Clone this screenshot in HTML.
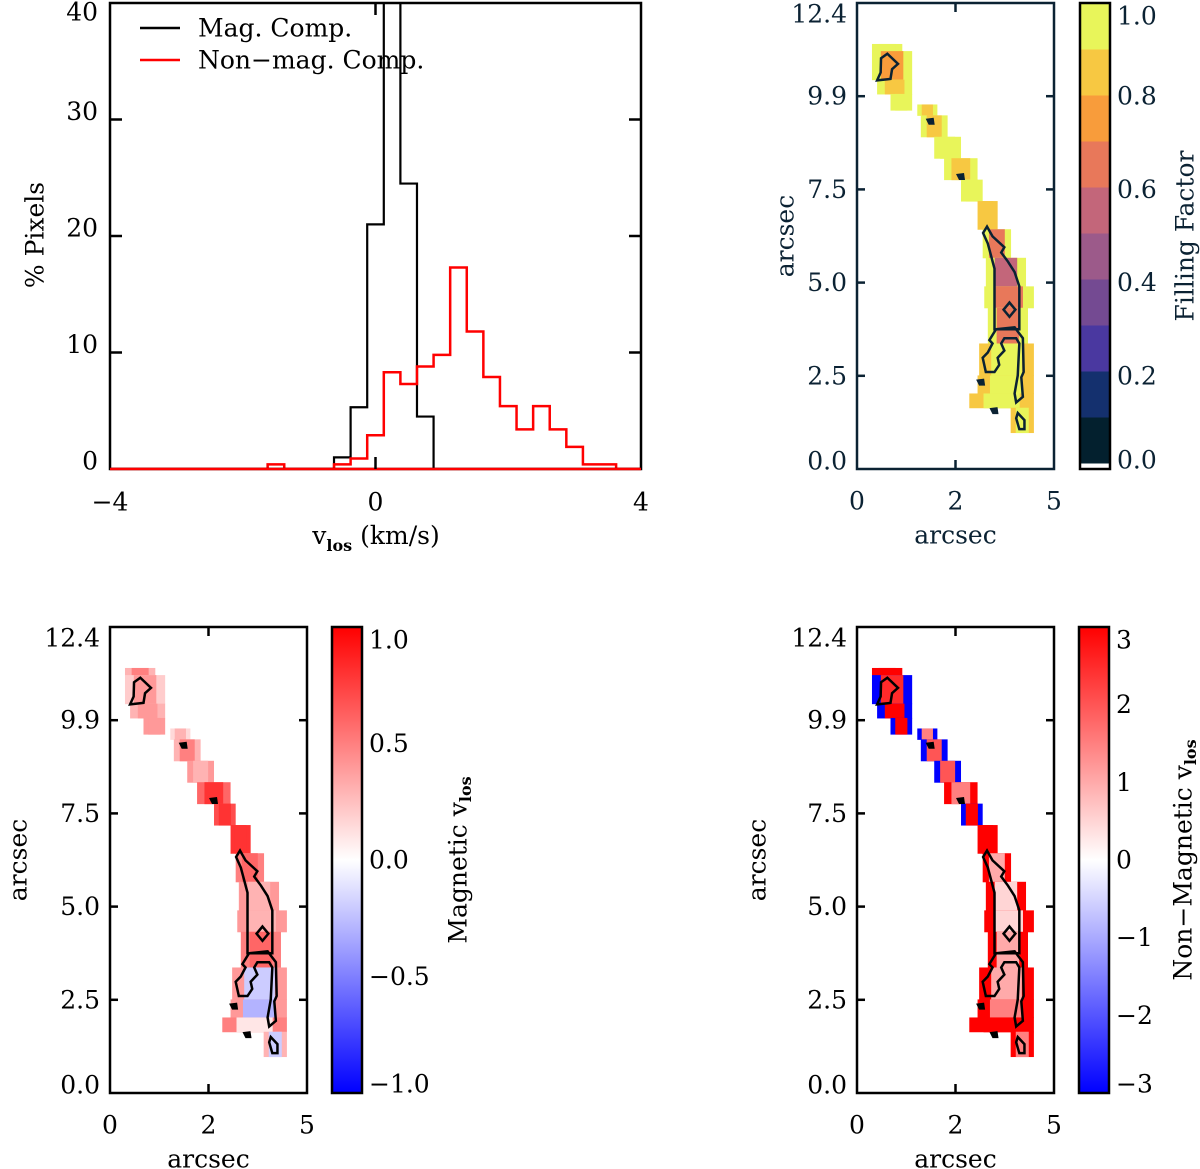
<!DOCTYPE html>
<html><head><meta charset="utf-8"><style>
html,body{margin:0;padding:0;background:#fff;}
svg{display:block;font-family:"DejaVu Serif","Liberation Serif",serif;}
</style></head><body>
<svg id="fig" width="1200" height="1169" viewBox="0 0 1200 1169" xmlns="http://www.w3.org/2000/svg"></svg>
<script>
// ---------- Histogram data ----------
const binCenters = [-1.5,-1.25,-1.0,-0.75,-0.5,-0.25,0.0,0.25,0.5,0.75,1.0,1.25,1.5,1.75,2.0,2.25,2.5,2.75,3.0,3.25,3.5];
const magValues  = [0,0,0,0,1.0,5.3,21,45,24.5,4.5,0,0,0,0,0,0,0,0,0,0,0];
const nonMagValues = [0.4,0,0,0,0.4,0.9,2.9,8.3,7.3,8.8,9.8,17.3,11.8,7.9,5.4,3.4,5.4,3.4,1.9,0.4,0.4];
const histYTicks = [0,10,20,30,40];
const histXTicks = [-4,0,4];
const histXTickLabels = ["\u22124","0","4"];

// ---------- Map data (arcsec) ----------
const rowsY0 = [11.31,11.12,10.36,9.98,9.70,9.41,8.84,8.27,7.70,7.13,6.38,5.62,4.86,4.29,3.34,2.49,2.01,1.63];
const rowsY1 = [11.12,10.36,9.98,9.55,9.41,8.84,8.27,7.70,7.13,6.38,5.62,4.86,4.29,3.34,2.49,2.01,1.63,0.97];
const rowsXL = [0.38,0.38,0.51,0.85,1.53,1.62,1.96,2.21,2.64,3.06,3.19,3.27,3.23,3.32,3.10,3.06,2.85,3.90];
const rowsXR = [1.15,1.40,1.40,1.40,2.04,2.30,2.64,3.06,3.19,3.57,3.91,4.29,4.49,4.34,4.49,4.49,4.49,4.49];
const ffEdge = [1.0,0.95,1.0,1.0,1.0,0.95,1.0,1.0,1.0,0.9,0.95,0.95,0.95,0.95,0.85,0.85,0.85,0.85];
const ffCore = [0.95,0.75,0.9,0.95,0.85,0.85,0.95,0.85,0.95,0.85,0.65,0.55,0.65,0.7,0.95,0.95,0.95,0.95];
const magEdge = [0.3,0.2,0.3,0.4,0.15,0.3,0.4,0.6,0.7,0.8,0.5,0.4,0.4,0.5,0.4,0.4,0.5,0.3];
const magCore = [0.5,0.4,0.4,0.4,0.3,0.5,0.3,0.8,0.8,0.8,0.6,0.3,0.3,0.6,-0.2,-0.3,0.1,-0.2];
const nmEdge = [3,-3,-3,-3,-3,-3,-3,3,-3,3,3,3,3,3,3,3,3,3];
const nmCore = [3,2.5,3,3,1.5,2,2,1.5,3,3,1,0.5,0.5,1,1,1.5,3,1.5];

const contourA = [[0.77,11.05],[1.04,10.78],[0.89,10.64],[0.85,10.38],[0.51,10.34],[0.60,10.55],[0.61,10.93]];
const contourB = [[3.30,6.45],[3.44,6.19],[3.74,5.90],[3.66,5.76],[3.83,5.52],[4.00,5.24],[4.12,4.86],[4.12,3.72],[3.49,3.72],[3.49,5.33],[3.32,6.00],[3.20,6.28]];
const contourC = [[3.87,4.43],[4.02,4.24],[3.87,4.05],[3.72,4.24]];
const contourD = [[3.53,3.72],[4.00,3.77],[4.21,3.48],[4.23,2.58],[4.17,2.44],[4.21,1.92],[4.04,1.77],[4.00,2.01],[4.08,2.49],[4.12,3.34],[4.04,3.48],[3.74,3.48],[3.66,3.34],[3.74,3.15],[3.57,2.96],[3.61,2.77],[3.49,2.58],[3.27,2.58],[3.19,2.96],[3.32,3.10],[3.44,3.34],[3.36,3.43]];
const contourE = [[4.08,1.49],[4.25,1.30],[4.25,1.06],[4.12,1.06],[4.04,1.35]];
const dotsX = [1.87,2.64,3.15,3.49];
const dotsY = [9.24,7.77,2.30,1.54];

const mapYTicks = [0,2.48,4.96,7.44,9.92,12.4];
const mapYTickLabels = ["0.0","2.5","5.0","7.5","9.9","12.4"];
const mapXTicks = [0,2.5,5];
const mapXTickLabels = ["0","2","5"];

const ffColors = ["#03202e","#14306e","#4a38a0","#744a92","#9c5a8a","#c3667a","#e8785a","#f89c3b","#f7c842","#e8f55a"];
const ffBarLabels = ["0.0","0.2","0.4","0.6","0.8","1.0"];
const ffBarValues = [0,0.2,0.4,0.6,0.8,1.0];
const magBarValues = [-1,-0.5,0,0.5,1];
const magBarLabels = ["\u22121.0","\u22120.5","0.0","0.5","1.0"];
const nmBarValues = [-3,-2,-1,0,1,2,3];
const nmBarLabels = ["\u22123","\u22122","\u22121","0","1","2","3"];

const NS = "http://www.w3.org/2000/svg";
const svg = document.getElementById("fig");
const FS = 25;
function el(tag, parent){ const e=document.createElementNS(NS,tag); (parent||svg).appendChild(e); return e; }
function txt(parent, s, x, y, size, anchor, color){
  const t=el("text",parent); t.textContent=s; t.setAttribute("x",x); t.setAttribute("y",y);
  t.setAttribute("font-size",size); t.setAttribute("text-anchor",anchor||"middle");
  t.setAttribute("dominant-baseline","central"); t.setAttribute("fill",color||"#000"); return t;
}

// ================= Histogram =================
(function(){
  const L=110,R=641,T=3,B=469;
  const xs=v=>L+(v+4)/8*(R-L);
  const ys=v=>B-v/40*(B-T);
  const g=el("g");  
  const clip=el("clipPath",g); clip.setAttribute("id","hclip");
  const cr=el("rect",clip); cr.setAttribute("x",L); cr.setAttribute("y",T); cr.setAttribute("width",R-L); cr.setAttribute("height",B-T);
  const bw=0.25;
  function stepPath(vals){
    let d="M"+xs(-4)+","+ys(0);
    for(let i=0;i<binCenters.length;i++){
      const x0=xs(binCenters[i]-bw/2), x1=xs(binCenters[i]+bw/2), y=ys(vals[i]);
      d+=" L"+x0+","+ys(i>0?vals[i-1]:0)+" L"+x0+","+y+" L"+x1+","+y;
    }
    d+=" L"+xs(binCenters[binCenters.length-1]+bw/2)+","+ys(0)+" L"+xs(4)+","+ys(0);
    return d;
  }
  const pm=el("path",g); pm.setAttribute("d",stepPath(magValues)); pm.setAttribute("fill","none"); pm.setAttribute("stroke","#000"); pm.setAttribute("stroke-width","2.2"); pm.setAttribute("clip-path","url(#hclip)");
  
  
  const pn=el("path",g); pn.setAttribute("d",stepPath(nonMagValues)); pn.setAttribute("fill","none"); pn.setAttribute("stroke","#ff0000"); pn.setAttribute("stroke-width","2.5"); pn.setAttribute("clip-path","url(#hclip)");
  
  
  const fr=el("rect",g); fr.setAttribute("x",L); fr.setAttribute("y",T); fr.setAttribute("width",R-L); fr.setAttribute("height",B-T); fr.setAttribute("fill","none"); fr.setAttribute("stroke","#000"); fr.setAttribute("stroke-width","2.5");
  
  
  const rb=el("line",g); rb.setAttribute("x1",L); rb.setAttribute("x2",R); rb.setAttribute("y1",B); rb.setAttribute("y2",B); rb.setAttribute("stroke","#ff0000"); rb.setAttribute("stroke-width","2.5");
  histYTicks.forEach(v=>{
    const y=ys(v);
    if(v>0&&v<40){
      [[L,L+12],[R,R-12]].forEach(p=>{const l=el("line",g); l.setAttribute("x1",p[0]); l.setAttribute("x2",p[1]); l.setAttribute("y1",y); l.setAttribute("y2",y); l.setAttribute("stroke","#000"); l.setAttribute("stroke-width","2.5");});
    }
    const t=txt(g,String(v),L-12,Math.max(12,Math.min(y-8,461)),FS,"end");
    
    
  });
  histXTicks.forEach((v,i)=>{
    const x=xs(v);
    if(v===0){
      [[B,B-12],[T,T+12]].forEach(p=>{const l=el("line",g); l.setAttribute("x1",x); l.setAttribute("x2",x); l.setAttribute("y1",p[0]); l.setAttribute("y2",p[1]); l.setAttribute("stroke","#000"); l.setAttribute("stroke-width","2.5");});
    }
    const t=txt(g,histXTickLabels[i],x,502,FS,"middle");
    
    
  });
  const xt=el("text",g); xt.setAttribute("x",376); xt.setAttribute("y",544); xt.setAttribute("text-anchor","middle"); xt.setAttribute("font-size",FS);
  xt.innerHTML='v<tspan font-size="16" dy="7" font-weight="bold">los</tspan><tspan dy="-7"> (km/s)</tspan>';
  
  
  const yt=txt(g,"% Pixels",35,235,FS,"middle"); yt.setAttribute("transform","rotate(-90 35 235)");
  
  
  [["#000","Mag. Comp.",28,"legend-mag-comp"],["#ff0000","Non\u2212mag. Comp.",60,"legend-non-mag-comp"]].forEach(e=>{
    const lg=el("g",g);
    
    
    const l=el("line",lg); l.setAttribute("x1",140); l.setAttribute("x2",180); l.setAttribute("y1",e[2]); l.setAttribute("y2",e[2]); l.setAttribute("stroke",e[0]); l.setAttribute("stroke-width","2.5");
    txt(lg,e[1],198,e[2],FS,"start");
  });
})();

// ================= Map panels =================
function velColor(v,vmax){
  let t=Math.max(-1,Math.min(1,v/vmax));
  if(t>=0){const c=Math.round(255*(1-t)); return "rgb(255,"+c+","+c+")";}
  const c=Math.round(255*(1+t)); return "rgb("+c+","+c+",255)";
}
function ffColor(v){ return ffColors[Math.max(0,Math.min(9,Math.floor(v*10-1e-9)))]; }

function drawMap(opts){
  const L=opts.L,T=opts.T,W=197,H=466,B=T+H,R=L+W;
  const xs=v=>L+v/5*W, ys=v=>B-v/12.4*H;
  const fg=opts.fg;
  const g=el("g");
  
  
  for(let i=0;i<rowsY0.length;i++){
    const x0=xs(rowsXL[i]),x1=xs(rowsXR[i]),y0=ys(rowsY0[i]),y1=ys(rowsY1[i]);
    const r=el("rect",g); r.setAttribute("x",x0); r.setAttribute("y",y0); r.setAttribute("width",x1-x0); r.setAttribute("height",y1-y0+0.5); r.setAttribute("fill",opts.color(opts.edge[i]));
    
    
    const w=x1-x0, c0=x0+w*0.22, c1=x1-w*0.22;
    const c=el("rect",g); c.setAttribute("x",c0); c.setAttribute("y",y0); c.setAttribute("width",c1-c0); c.setAttribute("height",y1-y0+0.5); c.setAttribute("fill",opts.color(opts.core[i]));
    
    
  }
  [contourA,contourB,contourC,contourD,contourE].forEach(cn=>{
    const p=el("polygon",g); p.setAttribute("points",cn.map(q=>xs(q[0])+","+ys(q[1])).join(" "));
    p.setAttribute("fill","none"); p.setAttribute("stroke",fg); p.setAttribute("stroke-width","2.5");
    
    
  });
  for(let i=0;i<dotsX.length;i++){
    const x=xs(dotsX[i]),y=ys(dotsY[i]);
    const p=el("polygon",g); p.setAttribute("points",(x-5)+","+(y-3)+" "+(x+3)+","+(y-4)+" "+(x+4)+","+(y+3)+" "+(x-2)+","+(y+3)); p.setAttribute("fill",fg);
    
    
  }
  const fr=el("rect",g); fr.setAttribute("x",L); fr.setAttribute("y",T); fr.setAttribute("width",W); fr.setAttribute("height",H); fr.setAttribute("fill","none"); fr.setAttribute("stroke",fg); fr.setAttribute("stroke-width","2.5");
  
  
  mapYTicks.forEach((v,i)=>{
    const y=ys(v);
    if(v>0&&v<12.4){[[L,L+8],[R,R-8]].forEach(p=>{const l=el("line",g); l.setAttribute("x1",p[0]); l.setAttribute("x2",p[1]); l.setAttribute("y1",y); l.setAttribute("y2",y); l.setAttribute("stroke",fg); l.setAttribute("stroke-width","2.5");});}
    const t=txt(g,mapYTickLabels[i],L-10,Math.max(T+11,Math.min(y,B-8)),FS,"end",fg);
    
    
  });
  mapXTicks.forEach((v,i)=>{
    const x=xs(v);
    if(v>0&&v<5){[[B,B-9],[T,T+9]].forEach(p=>{const l=el("line",g); l.setAttribute("x1",x); l.setAttribute("x2",x); l.setAttribute("y1",p[0]); l.setAttribute("y2",p[1]); l.setAttribute("stroke",fg); l.setAttribute("stroke-width","2.5");});}
    const t=txt(g,mapXTickLabels[i],x,B+32,FS,"middle",fg);
    
    
  });
  const xt=txt(g,"arcsec",L+W/2,B+66,FS,"middle",fg);
  
  
  const yx=opts.yTitleX, yy=T+H/2;
  const yt=txt(g,"arcsec",yx,yy,FS,"middle",fg); yt.setAttribute("transform","rotate(-90 "+yx+" "+yy+")");
  
  
  const cb=el("g",g);
  
  
  const CL=opts.cbL, CW=30;
  opts.drawBar(cb,CL,T,CW,H);
  const cf=el("rect",cb); cf.setAttribute("x",CL); cf.setAttribute("y",T); cf.setAttribute("width",CW); cf.setAttribute("height",H); cf.setAttribute("fill","none"); cf.setAttribute("stroke","#000"); cf.setAttribute("stroke-width","2.5");
  opts.barValues.forEach((v,i)=>{
    const y=B-(v-opts.vmin)/(opts.vmax-opts.vmin)*H;
    const t=txt(cb,opts.barLabels[i],CL+CW+7,Math.max(T+13,Math.min(y,B-9)),FS,"start",fg);
    
    
  });
  const tx=opts.titleX;
  const tt=el("text",cb); tt.setAttribute("x",tx); tt.setAttribute("y",yy); tt.setAttribute("text-anchor","middle"); tt.setAttribute("dominant-baseline","central"); tt.setAttribute("font-size",FS); tt.setAttribute("fill",fg);
  tt.setAttribute("transform","rotate(-90 "+tx+" "+yy+")");
  tt.innerHTML=opts.title;
  
  
}

function gradBar(id){
  return function(cb,x,y,w,h){
    const defs=el("defs",cb); const lg=el("linearGradient",defs); lg.setAttribute("id",id);
    lg.setAttribute("x1","0"); lg.setAttribute("y1","1"); lg.setAttribute("x2","0"); lg.setAttribute("y2","0");
    [["0","#0000ff"],["0.5","#ffffff"],["1","#ff0000"]].forEach(s=>{const st=el("stop",lg); st.setAttribute("offset",s[0]); st.setAttribute("stop-color",s[1]);});
    const r=el("rect",cb); r.setAttribute("x",x); r.setAttribute("y",y); r.setAttribute("width",w); r.setAttribute("height",h); r.setAttribute("fill","url(#"+id+")");
  };
}

drawMap({name:"filling-factor-map",L:857,T:3,fg:"#0b2233",cbL:1080,yTitleX:785,titleX:1185,
  color:ffColor,edge:ffEdge,core:ffCore,vmin:0,vmax:1,barValues:ffBarValues,barLabels:ffBarLabels,title:"Filling Factor",
  drawBar:function(cb,x,y,w,h){
    const hh=h-6;
    for(let i=0;i<10;i++){const r=el("rect",cb); r.setAttribute("x",x); r.setAttribute("y",y+hh-(i+1)*hh/10); r.setAttribute("width",w); r.setAttribute("height",hh/10+0.5); r.setAttribute("fill",ffColors[i]);}
  }});
drawMap({name:"magnetic-vlos-map",L:110,T:627,fg:"#000",cbL:332,yTitleX:18,titleX:458,
  color:v=>velColor(v,1),edge:magEdge,core:magCore,vmin:-1,vmax:1,barValues:magBarValues,barLabels:magBarLabels,
  title:'Magnetic v<tspan font-size="16" dy="7" font-weight="bold">los</tspan>',drawBar:gradBar("gm")});
drawMap({name:"non-magnetic-vlos-map",L:857,T:627,fg:"#000",cbL:1079,yTitleX:757,titleX:1183,
  color:v=>velColor(v,3),edge:nmEdge,core:nmCore,vmin:-3,vmax:3,barValues:nmBarValues,barLabels:nmBarLabels,
  title:'Non\u2212Magnetic v<tspan font-size="16" dy="7" font-weight="bold">los</tspan>',drawBar:gradBar("gn")});
</script>
</body></html>
